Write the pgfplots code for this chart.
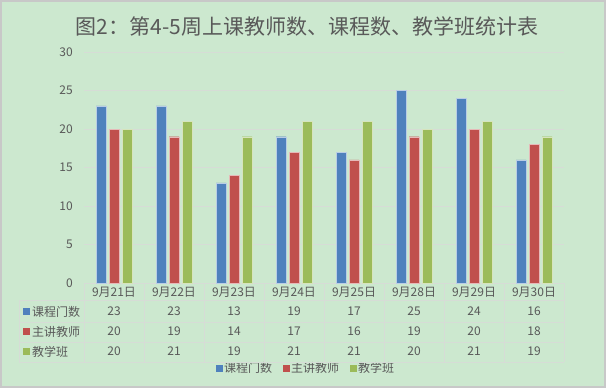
\documentclass[border=0pt]{standalone}
\usepackage{pgfplots}
\pgfplotsset{compat=1.18}
\usepackage{pgfplotstable}
\usepackage{fontspec}
\setmainfont{Noto Sans CJK SC}
\definecolor{cA}{HTML}{4F81BD}
\definecolor{cB}{HTML}{C0504D}
\definecolor{cC}{HTML}{9BBB59}
\definecolor{bgc}{HTML}{CCE8CF}
\definecolor{txt}{HTML}{595959}
\definecolor{gridc}{HTML}{D6DCD6}
\definecolor{bord}{HTML}{C8C8C8}
\pgfplotstableread{
x a b c
0 23 20 20
1 23 19 21
2 13 14 19
3 19 17 21
4 17 16 21
5 25 19 20
6 24 20 21
7 16 18 19
}\data
\pgfplotsset{sqlegend/.style={legend image code/.code={\fill[##1,draw=none] (0bp,-3.5bp) rectangle (7bp,3.5bp);}}}
\begin{document}
\begin{tikzpicture}[font=\fontsize{12bp}{14bp}\selectfont, text=txt]
\begin{scope}[x=1bp,y=1bp]
\path[use as bounding box] (0,0) rectangle (606,388);
\fill[bgc] (0,0) rectangle (606,388);
\draw[bord, line width=2bp] (1,1) rectangle (605,387);
\node[inner sep=0pt] at (307,362) {\fontsize{21bp}{24bp}\selectfont 图2：第4-5周上课教师数、课程数、教学班统计表};
\end{scope}
\begin{axis}[
  at={(84bp,105bp)}, anchor=south west,
  scale only axis, width=480bp, height=231bp,
  xmin=-0.5, xmax=7.5, ymin=0, ymax=30,
  ybar=3bp, bar width=10bp,
  axis x line*=bottom, axis y line*=left,
  y axis line style={draw=none},
  x axis line style={draw=gridc, line width=0.75bp, -},
  major tick length=0pt,
  ytick={0,5,10,15,20,25,30},
  xtick={0,...,7},
  xticklabels={9月21日,9月22日,9月23日,9月24日,9月25日,9月28日,9月29日,9月30日},
  ymajorgrids, grid style={draw=gridc, line width=0.75bp},
  tick label style={font=\fontsize{12bp}{14bp}\selectfont, text=txt},
  xticklabel style={anchor=center, yshift=-9bp, inner sep=0pt},
  yticklabel style={anchor=east, inner sep=0pt, xshift=-11bp},
  /pgf/number format/assume math mode=true,
  legend style={at={(0.4615,-0.368)}, anchor=center, draw=none, fill=none,
    font=\fontsize{12bp}{14bp}\selectfont, text=txt,
    nodes={inner sep=1.5bp},
    /tikz/every even column/.append style={column sep=9bp}},
  legend columns=3, legend cell align=left,
  clip=false,
]
\addplot[fill=cA, draw=white!60!cA, line width=0.4bp, sqlegend] table[x=x,y=a]{\data};
\addlegendentry{课程门数}
\addplot[fill=cB, draw=white!60!cB, line width=0.4bp, sqlegend] table[x=x,y=b]{\data};
\addlegendentry{主讲教师}
\addplot[fill=cC, draw=white!60!cC, line width=0.4bp, sqlegend] table[x=x,y=c]{\data};
\addlegendentry{教学班}
\end{axis}
\begin{scope}[x=1bp,y=1bp]
% table grid
\foreach \py in {300,322,342,362} {\draw[gridc, line width=0.75bp] (19,388-\py) -- (564,388-\py);}
\draw[gridc, line width=0.75bp] (19,388-300) -- (19,388-362);
\foreach \k in {0,...,8} {\draw[gridc, line width=0.75bp] (84+60*\k,388-283) -- (84+60*\k,388-362);}
% row labels and values
\foreach \col/\name/\clr/\py in {a/课程门数/cA/311.5, b/主讲教师/cB/331.5, c/教学班/cC/351.5} {
  \fill[\clr] (23,388-\py-3.5) rectangle (30,388-\py+3.5);
  \node[anchor=west, inner sep=0pt] at (32,388-\py) {\name};
  \foreach \k in {0,...,7} {
    \pgfplotstablegetelem{\k}{\col}\of\data
    \node[inner sep=0pt] at (114+60*\k,388-\py) {\pgfplotsretval};
  }
}
\end{scope}
\end{tikzpicture}
\end{document}
